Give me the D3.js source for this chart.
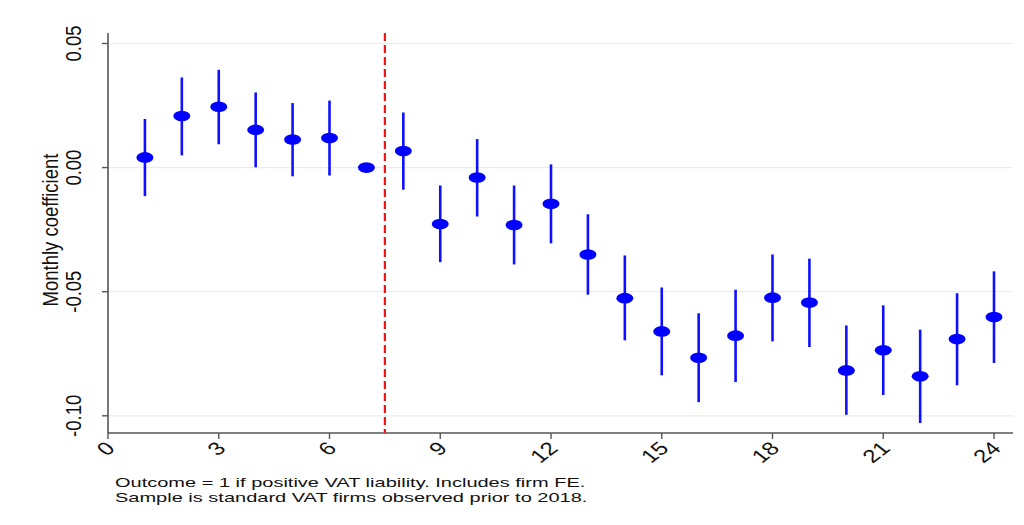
<!DOCTYPE html>
<html>
<head>
<meta charset="utf-8">
<script src="https://cdn.jsdelivr.net/npm/d3@7/dist/d3.min.js"></script>
<style>
  html, body { margin: 0; padding: 0; background: #fff; }
  svg { display: block; }
  text { font-family: "Liberation Sans", Arial, sans-serif; fill: #111; }
</style>
</head>
<body>
<svg id="chart" width="1024" height="525"></svg>
<script>
// Event-study coefficients by month (month 7 is the omitted reference month)
const months = [1, 2, 3, 4, 5, 6, 7, 8, 9, 10, 11, 12, 13, 14, 15, 16, 17, 18, 19, 20, 21, 22, 23, 24];
const coef = [0.0041, 0.0208, 0.0245, 0.0152, 0.0113, 0.0119, 0.0000, 0.0067,
              -0.0227, -0.0040, -0.0231, -0.0146, -0.0350, -0.0526, -0.0660, -0.0766,
              -0.0677, -0.0524, -0.0544, -0.0817, -0.0736, -0.0841, -0.0691, -0.0602];
const ciLow = [-0.0115, 0.0049, 0.0094, 0.0001, -0.0035, -0.0032, null, -0.0089,
               -0.0381, -0.0197, -0.0390, -0.0305, -0.0512, -0.0696, -0.0837, -0.0945,
               -0.0864, -0.0700, -0.0723, -0.0996, -0.0916, -0.1029, -0.0877, -0.0787];
const ciHigh = [0.0196, 0.0363, 0.0394, 0.0303, 0.0260, 0.0270, null, 0.0222,
                -0.0072, 0.0115, -0.0072, 0.0013, -0.0188, -0.0354, -0.0483, -0.0587,
                -0.0492, -0.0350, -0.0367, -0.0636, -0.0555, -0.0653, -0.0506, -0.0418];

// Axis ticks and labels
const xTicks = [0, 3, 6, 9, 12, 15, 18, 21, 24];
const yTicks = [0.05, 0.00, -0.05, -0.10];
const yTickLabels = ["0.05", "0.00", "-0.05", "-0.10"];
const yTitle = "Monthly coefficient";
const treatmentLine = 7.5;
const noteLines = [
  "Outcome = 1 if positive VAT liability. Includes firm FE.",
  "Sample is standard VAT firms observed prior to 2018."
];

const svg = d3.select("#chart");

const plot = { left: 108, right: 1013, top: 33, bottom: 433 };
const x = d3.scaleLinear().domain([0, 24]).range([108, 994]);
const y = d3.scaleLinear().domain([-0.10, 0.05]).range([415.8, 43.5]);

// text in this graph is drawn slightly wide
const stretch = 1.2;

// horizontal grid lines
svg.append("g")
  .selectAll("line")
  .data(yTicks)
  .join("line")
  .attr("x1", plot.left)
  .attr("x2", plot.right)
  .attr("y1", d => y(d))
  .attr("y2", d => y(d))
  .attr("stroke", "#e6eef1")
  .attr("stroke-width", 1.2);

// y axis
const yAxis = svg.append("g").attr("transform", `translate(${plot.left},0)`);
yAxis.append("line")
  .attr("x1", 0).attr("x2", 0)
  .attr("y1", plot.top).attr("y2", plot.bottom)
  .attr("stroke", "#555").attr("stroke-width", 1.6);
yAxis.selectAll("line.tick")
  .data(yTicks)
  .join("line")
  .attr("class", "tick")
  .attr("x1", -6).attr("x2", 0)
  .attr("y1", d => y(d)).attr("y2", d => y(d))
  .attr("stroke", "#555").attr("stroke-width", 1.4);
svg.append("g")
  .selectAll("text")
  .data(yTicks)
  .join("text")
  .attr("transform", d => `translate(81,${y(d)}) scale(${stretch},1) rotate(-90)`)
  .attr("text-anchor", "middle")
  .attr("font-size", 18.5)
  .text((d, i) => yTickLabels[i]);

svg.append("text")
  .attr("transform", `translate(58,230) scale(${stretch},1) rotate(-90)`)
  .attr("text-anchor", "middle")
  .attr("font-size", 18.5)
  .text(yTitle);

// x axis
const xAxis = svg.append("g");
xAxis.append("line")
  .attr("x1", plot.left).attr("x2", plot.right)
  .attr("y1", plot.bottom).attr("y2", plot.bottom)
  .attr("stroke", "#555").attr("stroke-width", 1.6);
xAxis.selectAll("line.tick")
  .data(xTicks)
  .join("line")
  .attr("class", "tick")
  .attr("x1", d => x(d)).attr("x2", d => x(d))
  .attr("y1", plot.bottom).attr("y2", plot.bottom + 6)
  .attr("stroke", "#555").attr("stroke-width", 1.4);
xAxis.selectAll("text")
  .data(xTicks)
  .join("text")
  .attr("transform", d => `translate(${x(d) - 4},${plot.bottom + 7}) scale(1.3,1) rotate(-45)`)
  .attr("text-anchor", "end")
  .attr("dy", "0.72em")
  .attr("font-size", 18.5)
  .text(d => d);

// treatment month divider
svg.append("line")
  .attr("x1", x(treatmentLine)).attr("x2", x(treatmentLine))
  .attr("y1", plot.top).attr("y2", plot.bottom)
  .attr("stroke", "#f01414")
  .attr("stroke-width", 2.2)
  .attr("stroke-dasharray", "8,4");

// confidence intervals
const ci = months.map((m, i) => ({ m, lo: ciLow[i], hi: ciHigh[i] })).filter(d => d.lo !== null);
svg.append("g")
  .selectAll("line")
  .data(ci)
  .join("line")
  .attr("x1", d => x(d.m)).attr("x2", d => x(d.m))
  .attr("y1", d => y(d.lo)).attr("y2", d => y(d.hi))
  .attr("stroke", "#1010ff")
  .attr("stroke-width", 2.6);

// point estimates
svg.append("g")
  .selectAll("ellipse")
  .data(months.map((m, i) => ({ m, v: coef[i] })))
  .join("ellipse")
  .attr("cx", d => x(d.m))
  .attr("cy", d => y(d.v))
  .attr("rx", 8.5)
  .attr("ry", 5.3)
  .attr("fill", "#0000ff");

// note below the graph
svg.append("g")
  .selectAll("text")
  .data(noteLines)
  .join("text")
  .attr("transform", (d, i) => `translate(115,${487 + i * 15}) scale(1.54,1)`)
  .attr("font-size", 13)
  .text(d => d);
</script>
</body>
</html>
